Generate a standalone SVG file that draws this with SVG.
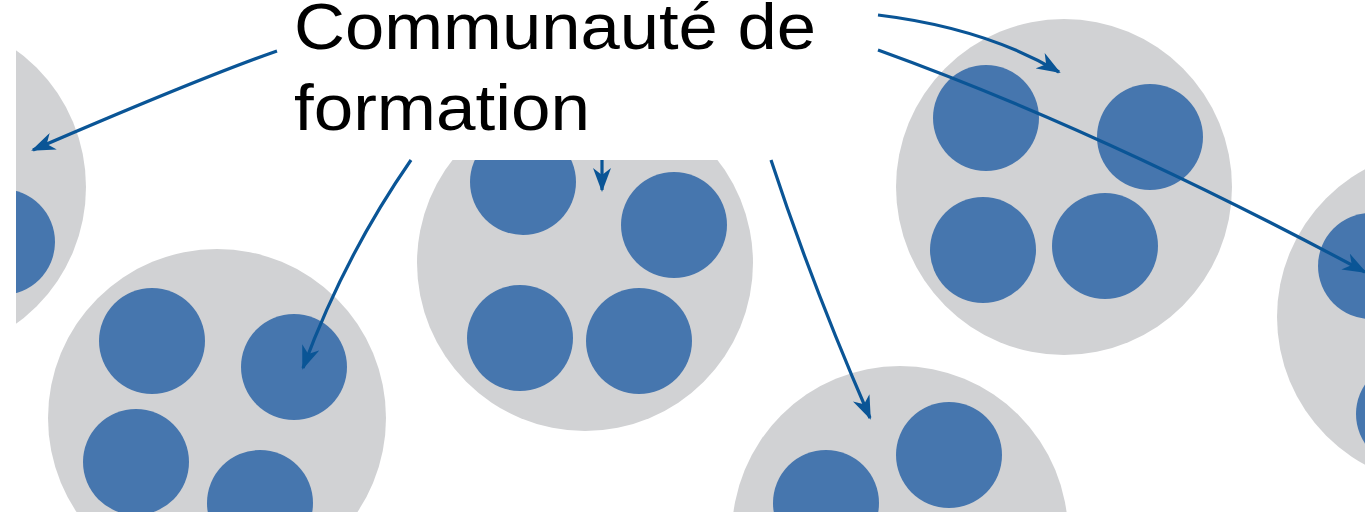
<svg xmlns="http://www.w3.org/2000/svg" width="1365" height="512" viewBox="0 0 1365 512">
<style>
.cell{fill:#d1d2d4}
.dot{fill:#4676ae}
.arr{fill:none;stroke:#0a5596;stroke-width:3.2;marker-end:url(#ah)}
.lbl{font-family:"Liberation Sans",Arial,sans-serif;font-size:65px;fill:#000}
</style>
<defs>
<marker id="ah" markerUnits="userSpaceOnUse" viewBox="0 0 24 18" markerWidth="24" markerHeight="18" refX="22" refY="9" orient="auto">
<path d="M0,0 L24,9 L0,18 L7,9 z" fill="#0a5596"/>
</marker>
</defs>
<rect width="1365" height="512" fill="#fff"/>
<g id="group-left">
<circle class="cell" cx="-83" cy="187" r="169"/>
<circle class="dot" cx="2" cy="242" r="53"/>
</g>
<g id="group-bottom-left">
<circle class="cell" cx="217" cy="418" r="169"/>
<circle class="dot" cx="152" cy="341" r="53"/>
<circle class="dot" cx="294" cy="367" r="53"/>
<circle class="dot" cx="136" cy="462" r="53"/>
<circle class="dot" cx="260" cy="503" r="53"/>
</g>
<g id="group-middle">
<circle class="cell" cx="585" cy="263" r="168"/>
<circle class="dot" cx="523" cy="182" r="53"/>
<circle class="dot" cx="674" cy="225" r="53"/>
<circle class="dot" cx="520" cy="338" r="53"/>
<circle class="dot" cx="639" cy="341" r="53"/>
</g>
<g id="group-bottom-middle">
<circle class="cell" cx="900" cy="534" r="168"/>
<circle class="dot" cx="826" cy="503" r="53"/>
<circle class="dot" cx="949" cy="455" r="53"/>
</g>
<g id="group-top-right">
<circle class="cell" cx="1064" cy="187" r="168"/>
<circle class="dot" cx="986" cy="118" r="53"/>
<circle class="dot" cx="1150" cy="137" r="53"/>
<circle class="dot" cx="983" cy="250" r="53"/>
<circle class="dot" cx="1105" cy="246" r="53"/>
</g>
<g id="group-right">
<circle class="cell" cx="1445" cy="317" r="168"/>
<circle class="dot" cx="1371" cy="266" r="53"/>
<circle class="dot" cx="1409" cy="414" r="53"/>
</g>
<rect x="0" y="0" width="16" height="512" fill="#fff"/>
<g id="label">
<rect x="278" y="0" width="600" height="160" fill="#fff"/>
<text class="lbl" x="294" y="49" textLength="522" lengthAdjust="spacingAndGlyphs">Communauté de</text>
<text class="lbl" x="294" y="130" textLength="296" lengthAdjust="spacingAndGlyphs">formation</text>
</g>
<g id="connectors">
<path class="arr" d="M277,51 Q200,78 33,150"/>
<path class="arr" d="M411,160 Q345,255 303,368"/>
<path class="arr" d="M602,160 L602,190"/>
<path class="arr" d="M771,160 Q812,285 870,418"/>
<path class="arr" d="M878,15 Q985,28 1059,72"/>
<path class="arr" d="M878,50 Q1100,130 1365,272"/>
</g>
</svg>
